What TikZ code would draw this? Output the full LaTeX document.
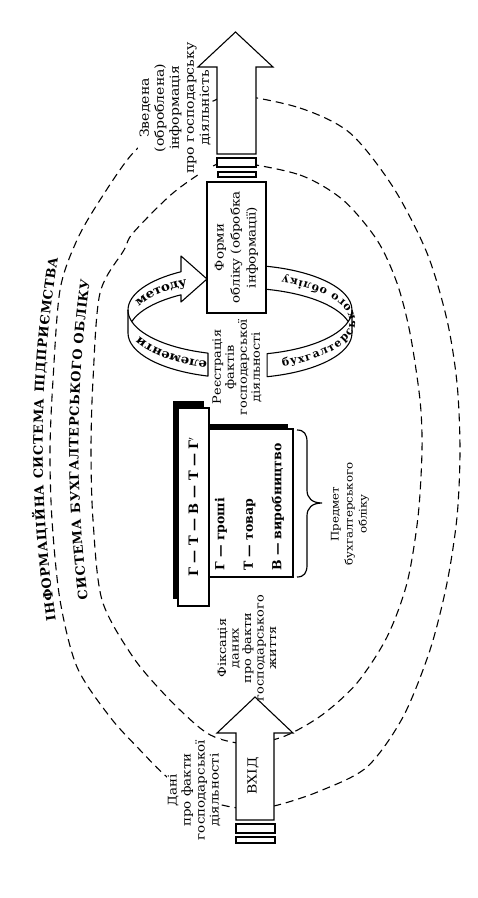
\documentclass[tikz,border=0pt]{standalone}
\usepackage{fontspec}
\setmainfont{DejaVu Serif}[FakeStretch=1.12]
\newfontfamily\plainserif{DejaVu Serif}
\usetikzlibrary{decorations.text}
\begin{document}
\begin{tikzpicture}[x=1pt,y=1pt,
  lbl/.style={rotate=90, align=center, inner sep=1pt},
  shp/.style={draw=black, line width=1.1pt, fill=white, line join=miter},
  dsh/.style={draw=black, line width=1.1pt, dash pattern=on 8pt off 5pt},
  ringst/.style={draw=black, line width=1.1pt, fill=white, line join=round},
  boxst/.style={rotate=90, draw=black, line width=1.1pt, fill=white, inner sep=0pt}
]
\path[use as bounding box] (0,0) rectangle (478,-898);
\fill[white] (0,0) rectangle (478,-898);

% dashed ellipses
\draw[dsh] plot[smooth cycle] coordinates {(236,-95) (300,-108) (350,-133) (393,-187) (427,-253) (447,-320) (457,-383) (460,-450) (457,-517) (447,-583) (430,-650) (403,-717) (367,-767) (320,-791) (278,-805) (250,-809) (222,-805) (195,-795) (167,-777) (140,-750) (110,-717) (77,-667) (60,-600) (52,-520) (50,-450) (53,-380) (60,-290) (77,-240) (100,-200) (133,-153) (172,-122) (211,-102)};
\draw[dsh] plot[smooth cycle] coordinates {(236,-162) (300,-175) (343,-200) (377,-240) (397,-283) (410,-333) (420,-400) (422,-450) (418,-517) (407,-583) (387,-637) (357,-683) (322,-715) (285,-736) (250,-744) (220,-739) (200,-728) (167,-697) (133,-657) (102,-600) (93,-520) (91,-450) (93,-380) (100,-293) (124,-250) (133,-233) (173,-193) (213,-166)};

% titles
\path[decorate, decoration={text along path, text align=fit to path,
  text={|\plainserif\fontsize{12.8}{15}\selectfont\bfseries|ІНФОРМАЦІЙНА СИСТЕМА ПІДПРИЄМСТВА}}]
  (56,-620) .. controls (38,-500) and (38,-380) .. (58,-258);
\path[decorate, decoration={text along path, text align=fit to path,
  text={|\plainserif\fontsize{12.8}{15}\selectfont\bfseries|СИСТЕМА БУХГАЛТЕРСЬКОГО ОБЛІКУ}}]
  (88,-599) .. controls (75,-490) and (75,-390) .. (90,-280);

% labels at the arrows
\node[lbl, fill=white, font={\fontsize{12.5}{15}\selectfont}] (outlbl) at (175,-108)
  {Зведена\\(оброблена)\\інформація\\про господарську\\діяльність};
\node[lbl, fill=white, font={\fontsize{12}{14}\selectfont}] (inlbl) at (194,-790)
  {Дані\\про факти\\господарської\\діяльності};

% output arrow
\draw[shp] (217,-154) -- (217,-67) -- (198,-67) -- (235.5,-32) -- (273,-67) -- (256,-67) -- (256,-154) -- cycle;
\draw[shp] (217,-158) rectangle (256,-167);
\draw[shp] (218,-172) rectangle (256,-177);

% input arrow
\draw[shp] (236,-820) -- (236,-733) -- (217,-733) -- (255,-697) -- (293,-733) -- (274,-733) -- (274,-820) -- cycle;
\draw[shp] (236,-824) rectangle (275,-833);
\draw[shp] (236,-837) rectangle (275,-843);
\node[rotate=90, font={\fontsize{12.5}{15}\selectfont}] (vhid) at (253,-776) {ВХІД};

% ring, right piece
\path[ringst] (267.1,-353.7) -- (267.1,-376.7)
  arc[start angle=284, end angle=360, x radius=112, y radius=45] -- (352,-310)
  arc[start angle=0, end angle=80, x radius=112, y radius=45] -- (259.4,-288.7)
  arc[start angle=80, end angle=15, x radius=112, y radius=45] -- (348.2,-321.65)
  arc[start angle=345, end angle=284, x radius=112, y radius=45] -- cycle;
\draw[line width=1.1pt] (348.2,-321.65) arc[start angle=345, end angle=360, x radius=112, y radius=45];

% forms box
\node[boxst, minimum width=131pt, minimum height=59pt, align=center,
  font={\fontsize{12}{16}\selectfont}] (forms) at (236.5,-247.5)
  {Форми\\обліку (обробка\\інформації)};

% ring, left piece with arrowhead
\path[ringst] (208,-353.1) -- (208,-376.1)
  arc[start angle=253.4, end angle=180, x radius=112, y radius=45] -- (128,-310)
  arc[start angle=180, end angle=121.8, x radius=112, y radius=45]
  -- (181,-256) -- (207,-279) -- (181,-302) -- (181,-294.8)
  arc[start angle=121.8, end angle=165, x radius=112, y radius=45] -- (131.8,-321.65)
  arc[start angle=195, end angle=253.4, x radius=112, y radius=45] -- cycle;
\draw[line width=1.1pt] (131.8,-321.65) arc[start angle=195, end angle=180, x radius=112, y radius=45];

% ring texts
\path[decorate, decoration={text along path, text align=fit to path, raise=-3.4pt,
  text={|\fontsize{12}{14}\selectfont\bfseries|елементи}}]
  (206.9,-364.5) arc[start angle=252.8, end angle=204, x radius=112, y radius=45];
\path[decorate, decoration={text along path, text align=fit to path, raise=-3.4pt,
  text={|\fontsize{12}{14}\selectfont\bfseries|методу}}]
  (136.9,-303.9) arc[start angle=157, end angle=119.5, x radius=112, y radius=45];
\path[decorate, decoration={text along path, text align=fit to path, raise=-3.2pt,
  text={|\plainserif\fontsize{11}{13}\selectfont\bfseries|бухгалтерського обліку}}]
  (281.95,-363.2) arc[start angle=292, end angle=428, x radius=112, y radius=45];

\node[lbl, font={\fontsize{11.5}{13}\selectfont}] (reg) at (237,-367)
  {Реєстрація\\фактів\\господарської\\діяльності};

% subject boxes
\fill[black] (204,-424) rectangle (288,-572);
\node[boxst, minimum width=148pt, minimum height=84pt] (legend) at (251,-503) {};
\node[rotate=90, anchor=west, align=left, inner sep=0pt,
  font={\plainserif\fontsize{12.5}{28.5}\selectfont\bfseries}] (legtxt) at (249.5,-571)
  {Г — гроші\\Т — товар\\В — виробництво};
\fill[black] (173,-401) rectangle (204,-599);
\node[boxst, minimum width=198pt, minimum height=31pt,
  font={\plainserif\fontsize{13}{15}\selectfont\bfseries}] (circ) at (193.5,-507)
  {Г — Т — В — Т — Г$'$};

% brace
\draw[line width=1.2pt] (297,-430) .. controls (304,-430) and (307,-434) .. (307,-442) -- (307,-490)
  .. controls (307,-498) and (312,-503) .. (322,-503)
  .. controls (312,-503) and (307,-508) .. (307,-516) -- (307,-565)
  .. controls (307,-573) and (304,-577) .. (297,-577);
\node[lbl, font={\fontsize{10.5}{14}\selectfont}] (subj) at (350,-514)
  {Предмет\\бухгалтерського\\обліку};

\node[lbl, font={\fontsize{11.5}{12.5}\selectfont}] (fix) at (247,-648)
  {Фіксація\\даних\\про факти\\господарського\\життя};
\end{tikzpicture}
\end{document}
